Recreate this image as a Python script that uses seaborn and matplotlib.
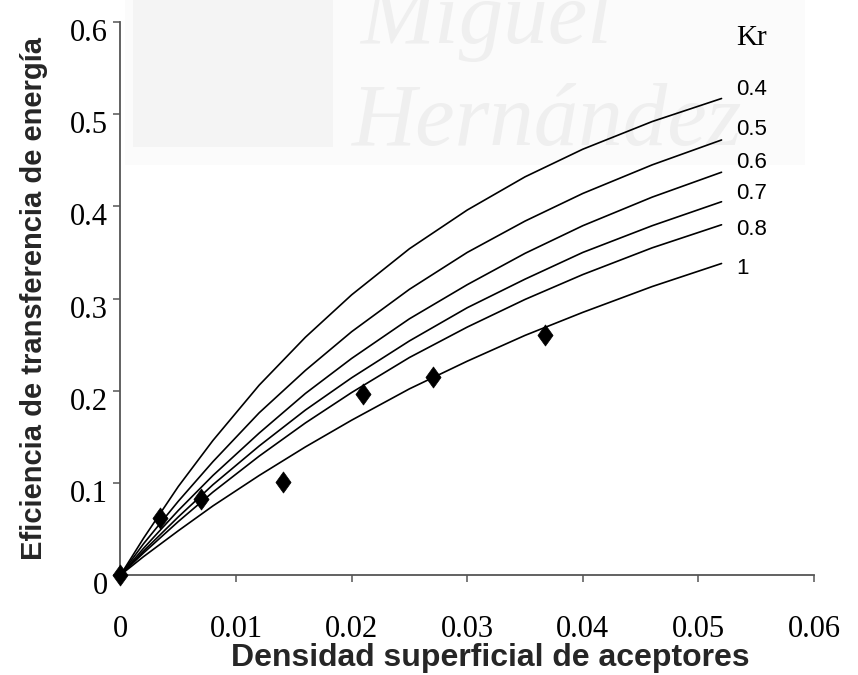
import numpy as np
import pandas as pd
import matplotlib
matplotlib.use("Agg")
import matplotlib.pyplot as plt
import matplotlib.transforms as mtransforms
from matplotlib.patches import Rectangle
from matplotlib.path import Path
import seaborn as sns

# Surface acceptor density (x) at which each Kr curve is tabulated
density = [0, 0.002, 0.005, 0.008, 0.012, 0.016, 0.02, 0.025, 0.03, 0.035, 0.04, 0.046, 0.052]

# Energy-transfer efficiency curves for each orientation factor Kr
eff_kr_04 = [0, 0.040, 0.096, 0.146, 0.206, 0.258, 0.304, 0.354, 0.396, 0.432, 0.462, 0.492, 0.517]
eff_kr_05 = [0, 0.034, 0.080, 0.123, 0.176, 0.222, 0.264, 0.310, 0.350, 0.384, 0.414, 0.445, 0.472]
eff_kr_06 = [0, 0.029, 0.070, 0.108, 0.154, 0.197, 0.235, 0.278, 0.315, 0.349, 0.379, 0.410, 0.437]
eff_kr_07 = [0, 0.026, 0.063, 0.098, 0.140, 0.179, 0.214, 0.254, 0.290, 0.321, 0.350, 0.379, 0.405]
eff_kr_08 = [0, 0.024, 0.058, 0.090, 0.129, 0.165, 0.198, 0.236, 0.269, 0.299, 0.326, 0.355, 0.380]
eff_kr_1 = [0, 0.020, 0.048, 0.075, 0.108, 0.139, 0.168, 0.202, 0.232, 0.260, 0.285, 0.313, 0.338]

kr_labels = ["0.4", "0.5", "0.6", "0.7", "0.8", "1"]
kr_curves = [eff_kr_04, eff_kr_05, eff_kr_06, eff_kr_07, eff_kr_08, eff_kr_1]

# Measured efficiencies
meas_density = [0, 0.0034, 0.0070, 0.0141, 0.0210, 0.0270, 0.0367]
meas_eff = [0, 0.062, 0.083, 0.1005, 0.196, 0.2148, 0.260]

x_ticks = [0, 0.01, 0.02, 0.03, 0.04, 0.05, 0.06]
x_tick_labels = ["0", "0.01", "0.02", "0.03", "0.04", "0.05", "0.06"]
y_ticks = [0, 0.1, 0.2, 0.3, 0.4, 0.5, 0.6]
y_tick_labels = ["0", "0.1", "0.2", "0.3", "0.4", "0.5", "0.6"]

curves = pd.DataFrame({
    "density": np.tile(density, len(kr_labels)),
    "eff": np.concatenate(kr_curves),
    "Kr": np.repeat(kr_labels, len(density)),
})
measured = pd.DataFrame({"density": meas_density, "eff": meas_eff})

sns.set_theme(style="white")
plt.rcParams["font.family"] = ["Liberation Serif", "DejaVu Serif"]

W, H = 858, 675
fig = plt.figure(figsize=(W / 100, H / 100), dpi=100)
fig.patch.set_facecolor("white")

# faint university watermark behind the plot
fig.patches.append(Rectangle((125 / W, 1 - 165 / H), 680 / W, 165 / H,
                             transform=fig.transFigure, facecolor="#fbfbfb",
                             edgecolor="none", zorder=-3))
fig.patches.append(Rectangle((133 / W, 1 - 147 / H), 200 / W, 147 / H,
                             transform=fig.transFigure, facecolor="#f4f4f4",
                             edgecolor="none", zorder=-2))
fig.text(360 / W, 1 - 43 / H, "Miguel", fontsize=64, style="italic", color="#efefef",
         family=["Liberation Serif"], ha="left", va="baseline", zorder=-1)
fig.text(352 / W, 1 - 145 / H, "Hernández", fontsize=64, style="italic", color="#efefef",
         family=["Liberation Serif"], ha="left", va="baseline", zorder=-1)

ax = fig.add_axes([0.1404, 0.1481, 0.8083, 0.8193])
ax.set_zorder(1)
ax.set_facecolor("none")

sns.lineplot(data=curves, x="density", y="eff", hue="Kr",
             palette=["black"] * len(kr_labels), linewidth=1.2,
             legend=False, ax=ax, sort=False)

diamond = Path([(0, 1), (0.72, 0), (0, -1), (-0.72, 0), (0, 1)],
               [Path.MOVETO, Path.LINETO, Path.LINETO, Path.LINETO, Path.CLOSEPOLY])
sns.scatterplot(data=measured, x="density", y="eff", marker=diamond, s=230,
                color="black", edgecolor="black", linewidth=0.5, ax=ax,
                zorder=5, clip_on=False)

ax.set_xlim(0, 0.06)
ax.set_ylim(0, 0.6)
ax.set_xticks(x_ticks)
ax.set_xticklabels(x_tick_labels)
ax.set_yticks(y_ticks)
ax.set_yticklabels(y_tick_labels)

for side in ["top", "right"]:
    ax.spines[side].set_visible(False)
for side in ["left", "bottom"]:
    ax.spines[side].set_color("#555555")
    ax.spines[side].set_linewidth(1.3)

ax.tick_params(axis="both", which="both", direction="out", length=5, width=1.1,
               color="#555555", labelsize=22, labelcolor="black")
ax.tick_params(axis="x", pad=24, bottom=True)
ax.tick_params(axis="y", pad=4, left=True)

# y tick labels sit slightly below their ticks
offset = mtransforms.ScaledTranslation(0, -8 / 100, fig.dpi_scale_trans)
for lab in ax.get_yticklabels():
    lab.set_transform(lab.get_transform() + offset)

ax.set_xlabel("Densidad superficial de aceptores", fontsize=23, fontweight="bold",
              family=["Liberation Sans"])
ax.set_ylabel("Eficiencia de transferencia de energía", fontsize=21, fontweight="bold",
              family=["Liberation Sans"])
ax.xaxis.set_label_coords(0.533, -0.1645)
ax.xaxis.label.set_verticalalignment("baseline")
ax.yaxis.set_label_coords(-0.105, 0.5)

# Kr curve labels at the right end of the curves
label_y = [0.527, 0.4837, 0.4479, 0.4143, 0.3753, 0.333]
for lab, yy in zip(kr_labels, label_y):
    ax.text(0.0533, yy, lab, fontsize=16, family=["Liberation Sans"],
            ha="left", va="center", color="black")
ax.text(0.0533, 0.5824, "Kr", fontsize=21, ha="left", va="center", color="black")

fig.savefig("out.png", dpi=100, facecolor="white")
